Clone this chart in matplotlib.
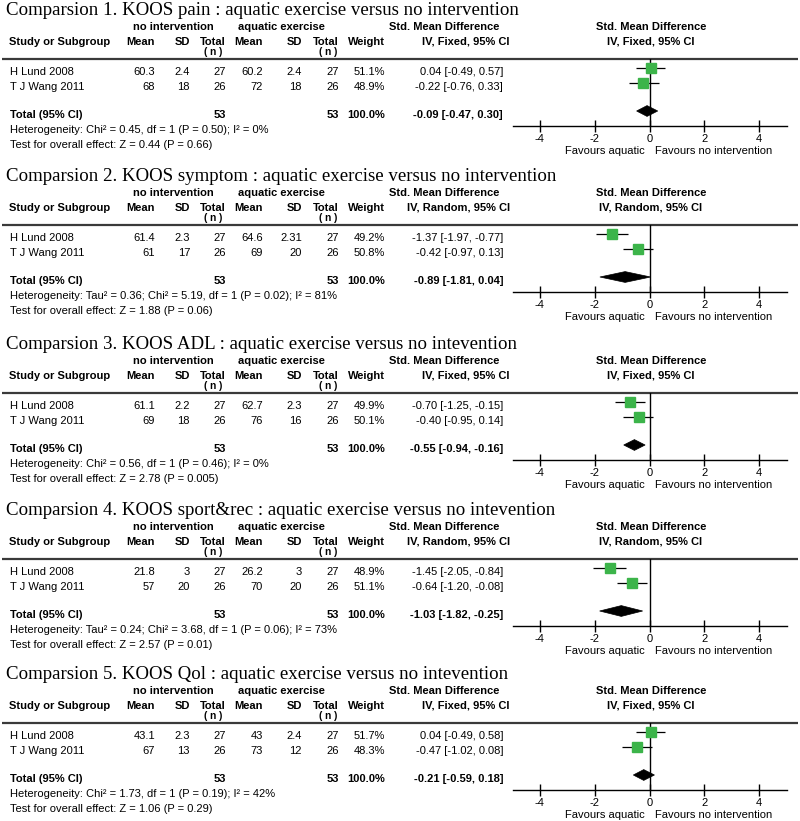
import matplotlib
matplotlib.use("Agg")
import matplotlib.pyplot as plt
from matplotlib.patches import Polygon

plt.rcParams['axes.unicode_minus'] = False
SANS = 'Liberation Sans'
SERIF = 'Liberation Serif'

# ---------------- data ----------------
titles = [
    "Comparsion 1. KOOS pain : aquatic exercise versus no intervention",
    "Comparsion 2. KOOS symptom : aquatic exercise versus no intervention",
    "Comparsion 3. KOOS ADL : aquatic exercise versus no intevention",
    "Comparsion 4. KOOS sport&rec : aquatic exercise versus no intevention",
    "Comparsion 5. KOOS Qol : aquatic exercise versus no intevention",
]
methods = ["Fixed", "Random", "Fixed", "Random", "Fixed"]
studies = ["H Lund 2008", "T J Wang 2011"]
ctrl_mean = [[60.3, 68], [61.4, 61], [61.1, 69], [21.8, 57], [43.1, 67]]
ctrl_sd = [[2.4, 18], [2.3, 17], [2.2, 18], [3, 20], [2.3, 13]]
ctrl_n = [27, 26]
exp_mean = [[60.2, 72], [64.6, 69], [62.7, 76], [26.2, 70], [43, 73]]
exp_sd = [[2.4, 18], [2.31, 20], [2.3, 16], [3, 20], [2.4, 12]]
exp_n = [27, 26]
weights = [[51.1, 48.9], [49.2, 50.8], [49.9, 50.1], [48.9, 51.1], [51.7, 48.3]]
smd = [[0.04, -0.22], [-1.37, -0.42], [-0.70, -0.40], [-1.45, -0.64], [0.04, -0.47]]
smd_lo = [[-0.49, -0.76], [-1.97, -0.97], [-1.25, -0.95], [-2.05, -1.20], [-0.49, -1.02]]
smd_hi = [[0.57, 0.33], [-0.77, 0.13], [-0.15, 0.14], [-0.84, -0.08], [0.58, 0.08]]
tot = [-0.09, -0.89, -0.55, -1.03, -0.21]
tot_lo = [-0.47, -1.81, -0.94, -1.82, -0.59]
tot_hi = [0.30, 0.04, -0.16, -0.25, 0.18]
heterogeneity = [
    "Heterogeneity: Chi² = 0.45, df = 1 (P = 0.50); I² = 0%",
    "Heterogeneity: Tau² = 0.36; Chi² = 5.19, df = 1 (P = 0.02); I² = 81%",
    "Heterogeneity: Chi² = 0.56, df = 1 (P = 0.46); I² = 0%",
    "Heterogeneity: Tau² = 0.24; Chi² = 3.68, df = 1 (P = 0.06); I² = 73%",
    "Heterogeneity: Chi² = 1.73, df = 1 (P = 0.19); I² = 42%",
]
overall = [
    "Test for overall effect: Z = 0.44 (P = 0.66)",
    "Test for overall effect: Z = 1.88 (P = 0.06)",
    "Test for overall effect: Z = 2.78 (P = 0.005)",
    "Test for overall effect: Z = 2.57 (P = 0.01)",
    "Test for overall effect: Z = 1.06 (P = 0.29)",
]
xticks = [-4, -2, 0, 2, 4]
xlim = (-5, 5)

# ---------------- layout ----------------
W, H = 800, 821
offsets = [0, 166, 334, 500, 664]
FS = 8.0
GREEN = '#3cb44a'

fig = plt.figure(figsize=(W / 100, H / 100), dpi=100)
bg = fig.add_axes([0, 0, 1, 1])
bg.set_xlim(0, W)
bg.set_ylim(H, 0)
bg.axis('off')


def T(x, y, s, ha='left', bold=False, size=FS, family=SANS):
    bg.text(x, y, s, ha=ha, va='baseline', fontsize=size, family=family,
            fontweight='bold' if bold else 'normal', color='black')


def fmt(v):
    return f"{v:g}"


col_r = dict(m1=155, s1=190, t1=226, m2=263, s2=302, t2=339, w=385, ci=503)
ax_left, ax_right = 512.5, 786.5

for p, off in enumerate(offsets):
    # title
    T(6, off + 15, titles[p], size=13.6, family=SERIF)
    # headers
    T(173, off + 30, "no intervention", ha='center', bold=True)
    T(281, off + 30, "aquatic exercise", ha='center', bold=True)
    T(499, off + 30, "Std. Mean Difference", ha='right', bold=True)
    T(651, off + 30, "Std. Mean Difference", ha='center', bold=True)
    T(9, off + 45, "Study or Subgroup", bold=True)
    T(col_r['m1'], off + 45, "Mean", ha='right', bold=True)
    T(col_r['s1'], off + 45, "SD", ha='right', bold=True)
    T(col_r['t1'], off + 45, "Total", ha='right', bold=True)
    T(col_r['m2'], off + 45, "Mean", ha='right', bold=True)
    T(col_r['s2'], off + 45, "SD", ha='right', bold=True)
    T(col_r['t2'], off + 45, "Total", ha='right', bold=True)
    T(col_r['w'], off + 45, "Weight", ha='right', bold=True)
    T(510, off + 45, f"IV, {methods[p]}, 95% CI", ha='right', bold=True)
    T(651, off + 45, f"IV, {methods[p]}, 95% CI", ha='center', bold=True)
    T(213, off + 54.8, "( n )", ha='center', bold=True, size=7.2)
    T(328, off + 54.8, "( n )", ha='center', bold=True, size=7.2)
    # rule
    bg.plot([2, 798], [off + 59, off + 59], color='#3a3a3a', lw=1.6,
            solid_capstyle='butt')
    # study rows
    for i, name in enumerate(studies):
        yb = off + 75 + 15 * i
        T(10, yb, name)
        T(col_r['m1'], yb, fmt(ctrl_mean[p][i]), ha='right')
        T(col_r['s1'], yb, fmt(ctrl_sd[p][i]), ha='right')
        T(col_r['t1'], yb, str(ctrl_n[i]), ha='right')
        T(col_r['m2'], yb, fmt(exp_mean[p][i]), ha='right')
        T(col_r['s2'], yb, fmt(exp_sd[p][i]), ha='right')
        T(col_r['t2'], yb, str(exp_n[i]), ha='right')
        T(col_r['w'], yb, f"{weights[p][i]:.1f}%", ha='right')
        T(col_r['ci'], yb, f"{smd[p][i]:.2f} [{smd_lo[p][i]:.2f}, {smd_hi[p][i]:.2f}]",
          ha='right')
    # total row
    yb = off + 118
    T(10, yb, "Total (95% CI)", bold=True)
    T(col_r['t1'], yb, str(sum(ctrl_n)), ha='right', bold=True)
    T(col_r['t2'], yb, str(sum(exp_n)), ha='right', bold=True)
    T(col_r['w'], yb, f"{sum(weights[p]):.1f}%", ha='right', bold=True)
    T(col_r['ci'], yb, f"{tot[p]:.2f} [{tot_lo[p]:.2f}, {tot_hi[p]:.2f}]",
      ha='right', bold=True)
    T(10, off + 133, heterogeneity[p])
    T(10, off + 148, overall[p])
    T(645, off + 154, "Favours aquatic", ha='right')
    T(655, off + 154, "Favours no intervention", ha='left')

    # forest axes (y in panel-local pixels)
    top, bot = 59, 126
    ax = fig.add_axes([ax_left / W, 1 - (off + bot) / H,
                       (ax_right - ax_left) / W, (bot - top) / H])
    ax.set_xlim(*xlim)
    ax.set_ylim(bot, top)
    ax.patch.set_alpha(0)
    for s in ('top', 'left', 'right'):
        ax.spines[s].set_visible(False)
    ax.spines['bottom'].set_linewidth(1.0)
    ax.set_yticks([])
    ax.set_xticks(xticks)
    ax.set_xticklabels([str(t) for t in xticks], fontsize=FS, family=SANS)
    ax.tick_params(axis='x', direction='inout', length=8, width=1.0, pad=1.5)
    ax.axvline(0, color='black', lw=1.0)
    row_y = [68, 83]
    for i in range(2):
        ax.hlines(row_y[i], smd_lo[p][i], smd_hi[p][i], color='black', lw=0.9, zorder=2)
        ax.plot(smd[p][i], row_y[i], marker='s', ls='none',
                ms=6.8 * (weights[p][i] / 50) ** 0.5, color=GREEN, zorder=3)
    yd, hh = 111, 5.4
    ax.add_patch(Polygon([(tot_lo[p], yd), (tot[p], yd - hh), (tot_hi[p], yd),
                          (tot[p], yd + hh)], closed=True, facecolor='black',
                         edgecolor='black', lw=0.5, zorder=3))

fig.savefig("out.png", dpi=100)
